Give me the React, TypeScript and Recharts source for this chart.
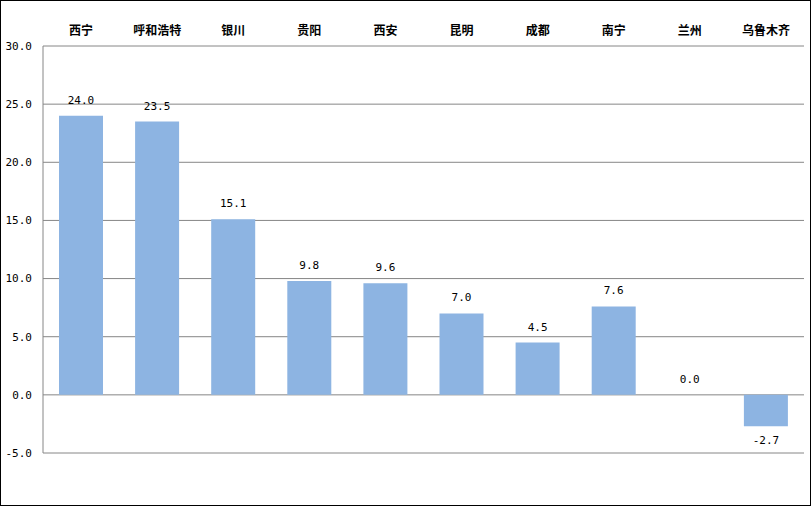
import React from "react";
import { BarChart, Bar, XAxis, YAxis, CartesianGrid, LabelList } from "recharts";

const cities = ["西宁", "呼和浩特", "银川", "贵阳", "西安", "昆明", "成都", "南宁", "兰州", "乌鲁木齐"];
const values = [24.0, 23.5, 15.1, 9.8, 9.6, 7.0, 4.5, 7.6, 0.0, -2.7];
const yTicks = [-5, 0, 5, 10, 15, 20, 25, 30];

const BAR_COLOR = "#8DB4E2";
const GRID_COLOR = "#868686";
const MONO = "'DejaVu Sans Mono', monospace";

const data = cities.map((name, i) => ({ name, value: values[i] }));

const CityTick = (props: any) => {
  const { x, payload } = props;
  return (
    <text
      x={x}
      y={32}
      textAnchor="middle"
      dominantBaseline="middle"
      fontSize={12}
      fontWeight="bold"
      fontFamily="'Noto Sans CJK SC', sans-serif"
      fill="#000"
    >
      {payload.value}
    </text>
  );
};

const ValueLabel = (props: any) => {
  const { x, y, width, height, value } = props;
  const top = Math.min(y, y + height);
  const bottom = Math.max(y, y + height);
  const ty = value >= 0 ? top - 15 : bottom + 15;
  return (
    <text
      x={x + width / 2}
      y={ty}
      textAnchor="middle"
      dominantBaseline="middle"
      fontSize={11}
      fontFamily={MONO}
      fill="#000"
    >
      {Number(value).toFixed(1)}
    </text>
  );
};

export default function App() {
  return (
    <div style={{ position: "absolute", left: 0, top: 0, width: 811, height: 506 }}>
      <div
        style={{
          width: 811,
          height: 506,
          boxSizing: "border-box",
          border: "1px solid #000",
          background: "#fff",
          position: "relative",
        }}
      >
        <div style={{ position: "absolute", left: -1, top: -1 }}>
          <BarChart
            width={811}
            height={506}
            data={data}
            margin={{ top: 0, right: 7, left: 0, bottom: 53 }}
            barSize={44}
          >
            <CartesianGrid vertical={false} stroke={GRID_COLOR} strokeDasharray="" />
            <XAxis
              dataKey="name"
              orientation="top"
              height={46}
              axisLine={false}
              tickLine={false}
              interval={0}
              tick={<CityTick />}
            />
            <YAxis
              width={43}
              domain={[-5, 30]}
              ticks={yTicks}
              interval={0}
              axisLine={{ stroke: GRID_COLOR }}
              tickLine={false}
              tickMargin={5}
              tickFormatter={(v: number) => v.toFixed(1)}
              tick={{ fontSize: 11, fontFamily: MONO, fill: "#000" }}
            />
            <Bar
              dataKey="value"
              fill={BAR_COLOR}
              isAnimationActive={false}
              minPointSize={(v: number) => (v === 0 ? 0.01 : 0)}
            >
              <LabelList dataKey="value" content={<ValueLabel />} />
            </Bar>
          </BarChart>
        </div>
      </div>
    </div>
  );
}
